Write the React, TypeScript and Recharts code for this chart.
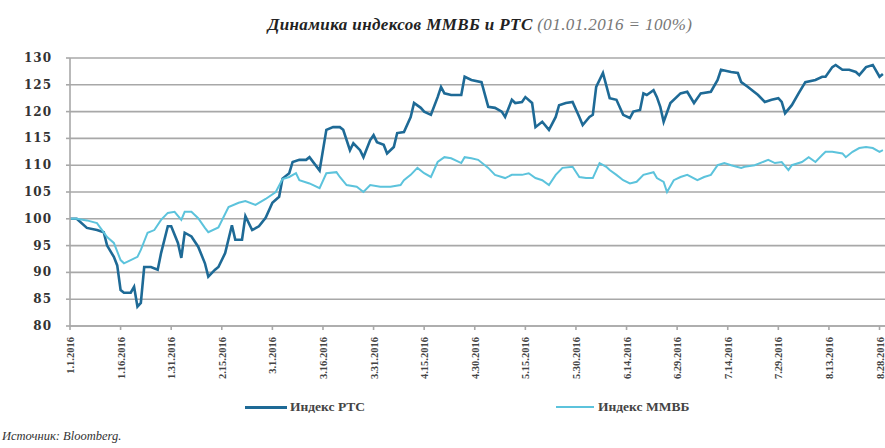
import React from 'react';
import { LineChart, Line, XAxis, YAxis, CartesianGrid } from 'recharts';

// day offsets from 1 Jan 2016
const rtsDays = [0, 2, 5, 8, 10, 11, 13, 14, 15, 16, 18, 19, 20, 21, 22, 24, 26, 27, 29, 30, 32, 33, 34, 36, 38, 40, 41, 43, 44, 46, 48, 49, 51, 52, 54, 56, 58, 60, 62, 63, 65, 66, 68, 70, 71, 74, 76, 78, 80, 81, 83, 84, 86, 87, 89, 90, 91, 93, 94, 96, 97, 99, 101, 102, 104, 105, 107, 109, 110, 111, 113, 116, 117, 119, 122, 124, 126, 128, 129, 131, 132, 134, 135, 137, 138, 140, 142, 144, 145, 147, 149, 151, 152, 154, 155, 156, 158, 160, 162, 164, 166, 167, 169, 170, 171, 173, 174, 175, 176, 178, 181, 183, 185, 187, 190, 192, 193, 196, 198, 199, 201, 204, 206, 208, 210, 211, 212, 214, 216, 218, 221, 223, 224, 226, 227, 229, 231, 233, 234, 236, 238, 240, 241];
const rtsValues = [100, 100, 98.3, 97.9, 97.5, 95, 92.9, 91.3, 86.7, 86.2, 86.2, 87.3, 83.6, 84.3, 91, 91, 90.5, 93.6, 98.6, 98.6, 95.5, 92.7, 97.4, 96.7, 94.8, 91.7, 89.2, 90.5, 91, 93.6, 98.8, 96.1, 96.1, 100.5, 97.9, 98.6, 100.2, 103, 104.1, 107.5, 108.5, 110.6, 111, 111, 111.5, 109, 116.6, 117.1, 117.1, 116.6, 112.8, 114.1, 112.8, 111.5, 114.7, 115.6, 114.3, 113.8, 112.2, 113.4, 116, 116.2, 119, 121.6, 120.7, 120, 119.4, 122.7, 124.6, 123.4, 123.1, 123.1, 126.5, 125.9, 125.5, 120.9, 120.7, 120, 119, 122.2, 121.6, 121.8, 122.7, 121.6, 117.1, 118.1, 116.6, 119, 121.2, 121.6, 121.8, 119, 117.5, 119, 119.4, 124.6, 127.2, 122.5, 122.2, 119.4, 118.8, 120, 120.3, 123.4, 123.1, 124, 122.7, 120.9, 118.1, 121.6, 123.4, 123.7, 121.6, 123.4, 123.7, 125.9, 127.8, 127.4, 127.2, 125.5, 124.6, 123.1, 121.8, 122.2, 122.5, 121.8, 119.7, 121.2, 123.4, 125.5, 125.9, 126.5, 126.5, 128.3, 128.7, 127.8, 127.8, 127.4, 126.8, 128.3, 128.7, 126.5, 127];

const mmvbDays = [0, 2, 5, 8, 11, 13, 15, 16, 18, 20, 21, 23, 25, 27, 29, 31, 33, 34, 36, 38, 40, 41, 44, 47, 50, 52, 55, 58, 61, 63, 65, 67, 68, 71, 74, 76, 79, 80, 82, 85, 87, 89, 92, 95, 98, 99, 101, 103, 105, 107, 109, 111, 113, 116, 117, 119, 121, 124, 126, 129, 131, 134, 136, 138, 140, 142, 144, 146, 149, 151, 153, 155, 157, 159, 160, 162, 164, 166, 168, 170, 173, 174, 176, 177, 179, 181, 183, 186, 188, 190, 192, 194, 196, 199, 200, 203, 207, 209, 211, 213, 214, 217, 219, 221, 223, 224, 226, 229, 230, 232, 234, 236, 238, 240, 241];
const mmvbValues = [100, 100, 99.7, 99.2, 96.6, 95.5, 92.3, 91.7, 92.3, 92.9, 94.2, 97.4, 97.9, 99.8, 101.1, 101.3, 99.8, 101.3, 101.3, 100.1, 98.3, 97.5, 98.4, 102.2, 103, 103.3, 102.6, 103.7, 105, 107.4, 107.8, 108.5, 107.2, 106.6, 105.7, 108.5, 108.7, 107.8, 106.3, 106, 105, 106.3, 106, 106, 106.3, 107.2, 108.2, 109.5, 108.5, 107.8, 110.6, 111.5, 111.3, 110.4, 111.5, 111.3, 111, 109.5, 108.2, 107.6, 108.2, 108.2, 108.5, 107.6, 107.2, 106.3, 108.2, 109.5, 109.7, 107.8, 107.6, 107.6, 110.4, 109.7, 109.1, 108.2, 107.2, 106.6, 106.9, 108.2, 108.7, 107.6, 106.9, 105, 107.2, 107.8, 108.2, 107.2, 107.8, 108.2, 110, 110.4, 110, 109.5, 109.7, 110, 111, 110.4, 110.6, 109.1, 110, 110.6, 111.5, 110.6, 111.9, 112.5, 112.5, 112.2, 111.5, 112.5, 113.2, 113.4, 113.2, 112.5, 112.8];

const xTicks = [0, 15, 30, 45, 60, 75, 90, 105, 120, 135, 150, 165, 180, 195, 210, 225, 240];
const xTickLabels = ['1.1.2016', '1.16.2016', '1.31.2016', '2.15.2016', '3.1.2016', '3.16.2016', '3.31.2016', '4.15.2016', '4.30.2016', '5.15.2016', '5.30.2016', '6.14.2016', '6.29.2016', '7.14.2016', '7.29.2016', '8.13.2016', '8.28.2016'];
const yTicks = [80, 85, 90, 95, 100, 105, 110, 115, 120, 125, 130];

const rtsData = rtsDays.map((day, i) => ({ day, value: rtsValues[i] }));
const mmvbData = mmvbDays.map((day, i) => ({ day, value: mmvbValues[i] }));

const RTS_COLOR = '#1e6a96';
const MMVB_COLOR = '#5cc3dc';
const GRID = '#a8a8a8';

const XTick = ({ x, y, payload }: any) => {
  const idx = xTicks.indexOf(payload.value);
  return (
    <text
      x={x}
      y={y}
      dx={-5}
      dy={4}
      transform={`rotate(-90 ${x} ${y})`}
      textAnchor="end"
      fontFamily="Liberation Serif"
      fontWeight="bold"
      fontSize={10.5}
      fill="#444"
    >
      {xTickLabels[idx]}
    </text>
  );
};

const YTick = ({ x, y, payload }: any) => (
  <text
    x={x - 12}
    y={y}
    dy={4}
    textAnchor="end"
    fontFamily="DejaVu Serif"
    fontWeight="bold"
    fontSize={12}
    letterSpacing={1}
    fill="#333"
  >
    {payload.value}
  </text>
);

export default function App() {
  return (
    <div style={{ position: 'absolute', top: 0, left: 0, width: 885, height: 448, overflow: 'hidden', background: '#fff' }}>
      <div
        style={{
          position: 'absolute',
          top: 15,
          left: 0,
          width: 960,
          textAlign: 'center',
          fontFamily: 'Liberation Serif',
          fontStyle: 'italic',
          fontSize: 17,
          letterSpacing: 0.4,
          whiteSpace: 'nowrap',
        }}
      >
        <span style={{ fontWeight: 'bold', color: '#222' }}>Динамика индексов ММВБ и РТС</span>{' '}
        <span style={{ color: '#777' }}>(01.01.2016 = 100%)</span>
      </div>

      <LineChart width={930} height={390} margin={{ top: 58, right: 10, left: 0, bottom: 4 }}>
        <CartesianGrid horizontal vertical={false} stroke={GRID} strokeWidth={1.6} />
        <XAxis
          type="number"
          dataKey="day"
          domain={[0, 252]}
          ticks={xTicks}
          allowDataOverflow
          height={60}
          stroke={GRID}
          strokeWidth={1.6}
          tickSize={4}
          tick={<XTick />}
          interval={0}
        />
        <YAxis
          type="number"
          domain={[80, 130]}
          ticks={yTicks}
          width={70}
          stroke={GRID}
          strokeWidth={1.6}
          tickSize={4}
          tick={<YTick />}
          interval={0}
        />
        <Line
          data={rtsData}
          dataKey="value"
          type="linear"
          stroke={RTS_COLOR}
          strokeWidth={2.6}
          dot={false}
          isAnimationActive={false}
          name="Индекс РТС"
        />
        <Line
          data={mmvbData}
          dataKey="value"
          type="linear"
          stroke={MMVB_COLOR}
          strokeWidth={2}
          dot={false}
          isAnimationActive={false}
          name="Индекс ММВБ"
        />
      </LineChart>

      <div style={{ position: 'absolute', top: 399, left: 0, width: 885, height: 16, fontFamily: 'Liberation Serif', fontWeight: 'bold', fontSize: 13.5, color: '#444' }}>
        <div style={{ position: 'absolute', left: 245, top: 7, width: 42, height: 3, background: RTS_COLOR }} />
        <div style={{ position: 'absolute', left: 290, top: 0 }}>Индекс РТС</div>
        <div style={{ position: 'absolute', left: 556, top: 7, width: 38, height: 2, background: MMVB_COLOR }} />
        <div style={{ position: 'absolute', left: 598, top: 0 }}>Индекс ММВБ</div>
      </div>

      <div style={{ position: 'absolute', top: 429, left: 2, fontFamily: 'Liberation Serif', fontStyle: 'italic', fontSize: 12.5, color: '#333' }}>
        Источник: Bloomberg.
      </div>
    </div>
  );
}
